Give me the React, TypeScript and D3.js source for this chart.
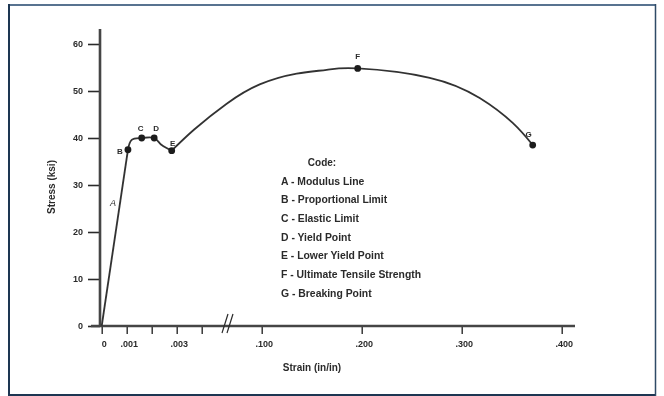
import React, { useRef, useEffect } from 'react'
import * as d3 from 'd3'

// stress-strain curve (strain in/in, stress ksi)
const strain = [0, 0.00105, 0.0012, 0.0016, 0.0021, 0.0024, 0.0028, 0.0037, 0.065, 0.098, 0.135, 0.165, 0.196, 0.268, 0.318, 0.351, 0.371]
const stress = [0, 37.5, 39.6, 40, 40, 38.5, 37.3, 41.8, 47.3, 51.4, 53.7, 54.5, 54.8, 52.8, 48.5, 43.2, 38.5]
const lowerYieldIndex = 6

// marked points
const pointCodes = ['B', 'C', 'D', 'E', 'F', 'G']
const pointStrain = [0.00105, 0.0016, 0.0021, 0.0028, 0.196, 0.371]
const pointStress = [37.5, 40, 40, 37.3, 54.8, 38.5]

const legendItems = [
    'A - Modulus Line',
    'B - Proportional Limit',
    'C - Elastic Limit',
    'D - Yield Point',
    'E - Lower Yield Point',
    'F - Ultimate Tensile Strength',
    'G - Breaking Point',
]

const yTicks = [0, 10, 20, 30, 40, 50, 60]
const xTicks = [0, 0.001, 0.002, 0.003, 0.004, 0.1, 0.2, 0.3, 0.4]
const xTickLabels = ['0', '.001', '', '.003', '', '.100', '.200', '.300', '.400']

const App = () => {
    const reg = useRef<SVGSVGElement>(null)
    useEffect(() => {
        const w = 664
        const h = 396
        const svg = d3.select(reg.current)
        svg.selectAll('*').remove()
        svg.attr('width', w).attr('height', h).style('background', 'white')

        const ink = '#2b2b2b'
        const font = 'Liberation Sans, Arial, sans-serif'

        // frame
        const frame = svg.append('g')
        frame.append('line').attr('x1', 8).attr('x2', 656).attr('y1', 5).attr('y2', 5).attr('stroke', '#587390').attr('stroke-width', 2)
        frame.append('line').attr('x1', 9).attr('x2', 9).attr('y1', 4).attr('y2', 395).attr('stroke', '#1d3652').attr('stroke-width', 2)
        frame.append('line').attr('x1', 8).attr('x2', 656).attr('y1', 395).attr('y2', 395).attr('stroke', '#1d3652').attr('stroke-width', 2)
        frame.append('line').attr('x1', 655.5).attr('x2', 655.5).attr('y1', 4).attr('y2', 396).attr('stroke', '#2f4a66').attr('stroke-width', 1.5)

        const defs = svg.append('defs')
        defs.append('filter').attr('id', 'scan')
            .append('feGaussianBlur').attr('stdDeviation', 0.55)

        const g = svg.append('g').attr('filter', 'url(#scan)')

        // broken x scale: 0-.004 stretched, then .04-.4
        const xScale = d3.scaleLinear()
            .domain([0, 0.004, 0.04, 0.4])
            .range([101.7, 201.7, 201.7, 561.7])
        const yScale = d3.scaleLinear()
            .domain([0, 60])
            .range([326, 44])

        // axes
        const yAxis = d3.axisLeft(yScale)
            .tickValues(yTicks)
            .tickSize(12)
            .tickPadding(5)
            .tickFormat(d => String(d))
        const ya = g.append('g').attr('transform', 'translate(100,0)').call(yAxis)
        ya.select('.domain').remove()
        ya.selectAll('line').attr('stroke', ink).attr('stroke-width', 1.6)
        ya.selectAll('text').style('fill', ink).style('font-size', '9px').style('font-weight', 'bold').style('font-family', font)

        const xAxis = d3.axisBottom(xScale)
            .tickValues(xTicks)
            .tickSize(8)
            .tickPadding(7)
            .tickFormat((d, i) => xTickLabels[i])
        const xa = g.append('g').attr('transform', 'translate(0,326)').call(xAxis)
        xa.select('.domain').remove()
        xa.selectAll('line').attr('stroke', ink).attr('stroke-width', 1.4)
        xa.selectAll('text').attr('dx', 2).style('fill', ink).style('font-size', '9px').style('font-weight', 'bold').style('font-family', font)

        g.append('line').attr('x1', 100).attr('x2', 100).attr('y1', 29).attr('y2', 327)
            .attr('stroke', '#444').attr('stroke-width', 2.6)
        g.append('line').attr('x1', 91).attr('x2', 575).attr('y1', 326).attr('y2', 326)
            .attr('stroke', '#444').attr('stroke-width', 2.6)

        // axis break marks
        g.append('line').attr('x1', 222).attr('y1', 333).attr('x2', 228).attr('y2', 314).attr('stroke', ink).attr('stroke-width', 1.2)
        g.append('line').attr('x1', 227).attr('y1', 333).attr('x2', 233).attr('y2', 314).attr('stroke', ink).attr('stroke-width', 1.2)

        // axis titles
        g.append('text').attr('x', 312).attr('y', 371).attr('text-anchor', 'middle')
            .style('font-size', '10px').style('font-weight', 'bold').style('font-family', font).style('fill', ink)
            .text('Strain (in/in)')
        g.append('text').attr('transform', 'translate(55,187) rotate(-90)').attr('text-anchor', 'middle')
            .style('font-size', '10px').style('font-weight', 'bold').style('font-family', font).style('fill', ink)
            .text('Stress (ksi)')

        // modulus line straight, yield wiggle, then the smooth hardening arc
        const pts = strain.map((s, i) => [xScale(s), yScale(stress[i])] as [number, number])
        const curveStyle = (p: any) => p.attr('fill', 'none').attr('stroke', '#333').attr('stroke-width', 1.8)
        g.append('path')
            .attr('d', d3.line()(pts.slice(0, 2)))
            .call(curveStyle)
        g.append('path')
            .attr('d', d3.line().curve(d3.curveCatmullRom)(pts.slice(1, lowerYieldIndex + 1)))
            .call(curveStyle)
        g.append('path')
            .attr('d', d3.line().curve(d3.curveNatural)(pts.slice(lowerYieldIndex)))
            .call(curveStyle)

        // points and their letters
        const labelOffset: Record<string, [number, number]> = {
            B: [-8, 1], C: [-1, -10], D: [2, -10], E: [1, -8], F: [0, -12], G: [-4, -11],
        }
        pointCodes.forEach((c, i) => {
            const px = xScale(pointStrain[i])
            const py = yScale(pointStress[i])
            g.append('circle').attr('cx', px).attr('cy', py).attr('r', 3.4).attr('fill', '#1e1e1e')
            g.append('text').attr('x', px + labelOffset[c][0]).attr('y', py + labelOffset[c][1] + 3)
                .attr('text-anchor', 'middle')
                .style('font-size', '8px').style('font-weight', 'bold').style('font-family', font).style('fill', ink)
                .text(c)
        })
        g.append('text').attr('x', 113).attr('y', 206).attr('text-anchor', 'middle')
            .style('font-size', '9px').style('font-style', 'italic').style('font-family', font).style('fill', ink)
            .text('A')

        // code legend
        g.append('text').attr('x', 322).attr('y', 166).attr('text-anchor', 'middle')
            .style('font-size', '10px').style('font-weight', 'bold').style('font-family', font).style('fill', ink)
            .text('Code:')
        g.selectAll('.code')
            .data(legendItems)
            .enter().append('text')
            .attr('class', 'code')
            .attr('x', 281)
            .attr('y', (d, i) => 184.5 + i * 18.7)
            .style('font-size', '10.4px').style('font-weight', 'bold').style('font-family', font).style('fill', ink)
            .text(d => d)
    }, [])
    return (
        <svg ref={reg} style={{ position: 'absolute', left: 0, top: 0 }}></svg>
    )
}

export default App
